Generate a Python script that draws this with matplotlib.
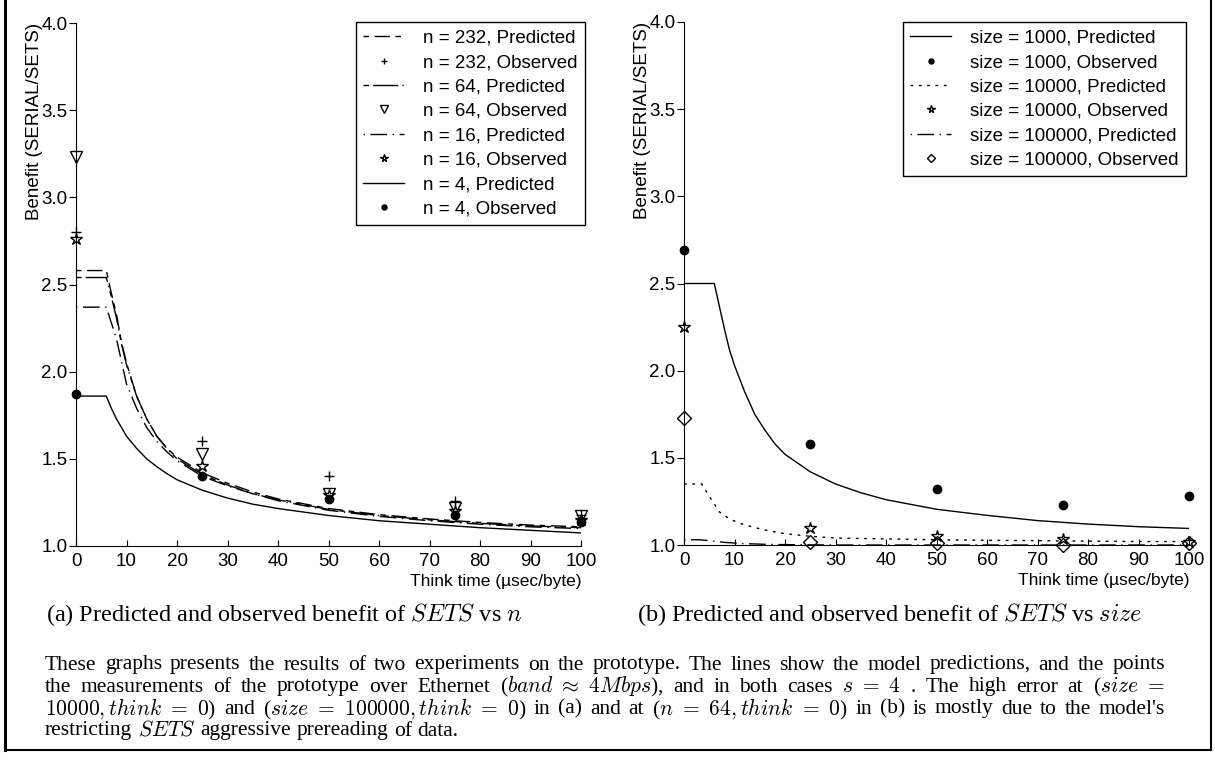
import matplotlib
matplotlib.use('Agg')
import matplotlib.pyplot as plt
from matplotlib.lines import Line2D

plt.rcParams['font.family'] = ['Liberation Sans', 'DejaVu Sans']
plt.rcParams['mathtext.fontset'] = 'cm'

W, H = 1215, 763

# ---- (a) benefit vs n ----
think_a = [0, 6, 7, 8, 9, 10, 12, 14, 16, 18, 20, 25, 30, 35, 40, 50, 60, 70, 80, 90, 100]
pred_n232 = [2.58, 2.58, 2.45, 2.33, 2.17, 2.05, 1.86, 1.73, 1.63, 1.56, 1.51, 1.42, 1.36,
             1.31, 1.27, 1.215, 1.18, 1.155, 1.135, 1.12, 1.11]
pred_n64 = [2.54, 2.54, 2.43, 2.31, 2.16, 2.04, 1.86, 1.73, 1.63, 1.56, 1.50, 1.41, 1.35,
            1.30, 1.265, 1.21, 1.175, 1.15, 1.13, 1.115, 1.105]
pred_n16 = [2.37, 2.37, 2.28, 2.19, 2.06, 1.93, 1.79, 1.68, 1.60, 1.54, 1.49, 1.40, 1.345,
            1.30, 1.26, 1.205, 1.17, 1.145, 1.125, 1.11, 1.10]
pred_n4 = [1.86, 1.86, 1.79, 1.73, 1.68, 1.63, 1.56, 1.50, 1.455, 1.415, 1.38, 1.32, 1.275,
           1.24, 1.215, 1.175, 1.145, 1.125, 1.105, 1.09, 1.075]

obs_x = [0, 25, 50, 75, 100]
obs_n232 = [2.80, 1.60, 1.40, 1.26, 1.18]
obs_n64 = [3.23, 1.53, 1.30, 1.22, 1.17]
obs_n16 = [2.76, 1.46, 1.29, 1.20, 1.15]
obs_n4 = [1.87, 1.40, 1.27, 1.18, 1.14]

# ---- (b) benefit vs size ----
think_b = think_a
pred_s1000 = [2.50, 2.50, 2.37, 2.24, 2.12, 2.03, 1.88, 1.75, 1.66, 1.58, 1.52, 1.42, 1.35,
              1.30, 1.26, 1.205, 1.17, 1.14, 1.12, 1.105, 1.095]
think_s10000 = [0, 3.5, 5, 7, 9, 11, 14, 17, 20, 25, 30, 40, 50, 60, 70, 80, 90, 100]
pred_s10000 = [1.35, 1.35, 1.28, 1.19, 1.15, 1.125, 1.10, 1.08, 1.065, 1.05, 1.04, 1.035,
               1.03, 1.027, 1.025, 1.022, 1.02, 1.02]
think_s100000 = [0, 3, 5, 8, 12, 16, 20, 30, 50, 100]
pred_s100000 = [1.03, 1.03, 1.025, 1.015, 1.008, 1.004, 1.002, 1.0, 1.0, 1.0]

obs_s1000 = [2.69, 1.58, 1.32, 1.23, 1.28]
obs_s10000 = [2.25, 1.10, 1.05, 1.035, 1.02]
obs_s100000 = [1.73, 1.02, 1.01, 1.0, 1.01]

xticks = list(range(0, 101, 10))
yticks = [1.0, 1.5, 2.0, 2.5, 3.0, 3.5, 4.0]

caption_a = r'(a) Predicted and observed benefit of $SETS$ vs $n$'
caption_b = r'(b) Predicted and observed benefit of $SETS$ vs $size$'
body = [
    r"These graphs presents the results of two experiments on the prototype.  The lines show the model predictions, and the points",
    r"the measurements of the prototype over Ethernet ($band\ \approx\ 4Mbps$), and in both cases $s\ =\ 4$ .  The high error at ($size\ =$",
    r"$10000,think\ =\ 0$) and ($size\ =\ 100000,think\ =\ 0$) in (a) and at ($n\ =\ 64,think\ =\ 0$) in (b) is mostly due to the model's",
    r"restricting $SETS$ aggressive prereading of data.",
]

fig = plt.figure(figsize=(W / 100, H / 100), dpi=100)
fs = 13.5


def style_axes(ax):
    ax.set_xlim(0, 100)
    ax.set_ylim(1.0, 4.0)
    ax.spines['top'].set_visible(False)
    ax.spines['right'].set_visible(False)
    ax.set_xticks(xticks)
    ax.set_yticks(yticks)
    ax.set_yticklabels([f'{v:.1f}' for v in yticks])
    ax.tick_params(axis='x', direction='in', length=4, labelsize=fs, pad=5)
    ax.tick_params(axis='y', direction='out', length=5, labelsize=fs, pad=1)
    ax.set_xlabel('Think time (µsec/byte)', loc='right', fontsize=12.5, labelpad=3)
    ax.set_ylabel('Benefit (SERIAL/SETS)', loc='top', fontsize=fs, labelpad=-1)


def add_legend(ax, right_px):
    leg = ax.legend(loc='upper right', bbox_to_anchor=(right_px / W, 1 - 22 / H),
                    bbox_transform=fig.transFigure, fontsize=fs, frameon=True,
                    fancybox=False, edgecolor='black', framealpha=1, markerscale=0.6,
                    handlelength=2.2, handletextpad=1.0, labelspacing=0.39, borderpad=0.4,
                    borderaxespad=0)
    leg.get_frame().set_linewidth(1.0)
    return leg


lw = 1.0
mk = dict(linestyle='none', color='black', clip_on=False, zorder=5)

ax1 = fig.add_axes([76 / W, 1 - 546 / H, 505 / W, 523 / H])
style_axes(ax1)
ax1.plot(think_a, pred_n232, color='black', lw=lw, dashes=(4, 4, 11, 4), label='n = 232, Predicted')
ax1.plot(obs_x, obs_n232, marker='+', ms=7, mew=1, label='n = 232, Observed', **mk)
ax1.plot(think_a, pred_n64, color='black', lw=lw, dashes=(4, 3, 18, 3, 1, 3), label='n = 64, Predicted')
ax1.plot(obs_x, obs_n64, marker='v', ms=9, mfc='none', mew=1, label='n = 64, Observed', **mk)
ax1.plot(think_a, pred_n16, color='black', lw=lw, dashes=(1, 4, 12, 4), label='n = 16, Predicted')
ax1.plot(obs_x, obs_n16, marker='*', ms=9, mfc='none', mew=1, label='n = 16, Observed', **mk)
ax1.plot(think_a, pred_n4, color='black', lw=lw, label='n = 4, Predicted')
ax1.plot(obs_x, obs_n4, marker='o', ms=6, label='n = 4, Observed', **mk)
add_legend(ax1, 585)

ax2 = fig.add_axes([684 / W, 1 - 545 / H, 505 / W, 523 / H])
style_axes(ax2)
ax2.plot(think_b, pred_s1000, color='black', lw=lw, label='size = 1000, Predicted')
ax2.plot(obs_x, obs_s1000, marker='o', ms=6, label='size = 1000, Observed', **mk)
ax2.plot(think_s10000, pred_s10000, color='black', lw=lw, dashes=(2, 4), label='size = 10000, Predicted')
ax2.plot(obs_x, obs_s10000, marker='*', ms=9, mfc='none', mew=1, label='size = 10000, Observed', **mk)
ax2.plot(think_s100000, pred_s100000, color='black', lw=lw, dashes=(1, 4, 12, 4), label='size = 100000, Predicted')
ax2.plot(obs_x, obs_s100000, marker='D', ms=7, mfc='none', mew=1, label='size = 100000, Observed', **mk)
add_legend(ax2, 1186)

serif = ['Liberation Serif', 'DejaVu Serif']
fig.text(46 / W, 1 - 615 / H, caption_a, fontsize=17.5, family=serif, va='center', ha='left')
fig.text(637 / W, 1 - 615 / H, caption_b, fontsize=17.5, family=serif, va='center', ha='left')


def split_words(line):
    # split on spaces, but keep $...$ math pieces in one word
    words, cur = [], ''
    for p in line.split(' '):
        cur = p if cur == '' else cur + ' ' + p
        if cur.count('$') % 2 == 0:
            if cur.strip():
                words.append(cur)
            cur = ''
    if cur:
        words.append(cur)
    return words


renderer = fig.canvas.get_renderer()
x_left, x_right = 45, 1165
body_fs = 15.5
for i, line in enumerate(body):
    y = 1 - (665 + 22 * i) / H
    words = split_words(line)
    texts = [fig.text(0, y, w, fontsize=body_fs, family=serif, va='center', ha='left') for w in words]
    widths = [t.get_window_extent(renderer).width for t in texts]
    if i < len(body) - 1:
        gap = (x_right - x_left - sum(widths)) / (len(words) - 1)
    else:
        gap = body_fs * 100 / 72 * 0.25
    x = x_left
    for t, w in zip(texts, widths):
        t.set_x(x / W)
        x += w + gap

# page frame around the figure block
fig.add_artist(Line2D([5 / W, 5 / W], [1, 1 - 750 / H], color='black', lw=2.2))
fig.add_artist(Line2D([1211 / W, 1211 / W], [1, 1 - 750 / H], color='black', lw=1.5))
fig.add_artist(Line2D([5 / W, 1211 / W], [1 - 750 / H, 1 - 750 / H], color='black', lw=1.5))

fig.savefig('out.png', dpi=100)
